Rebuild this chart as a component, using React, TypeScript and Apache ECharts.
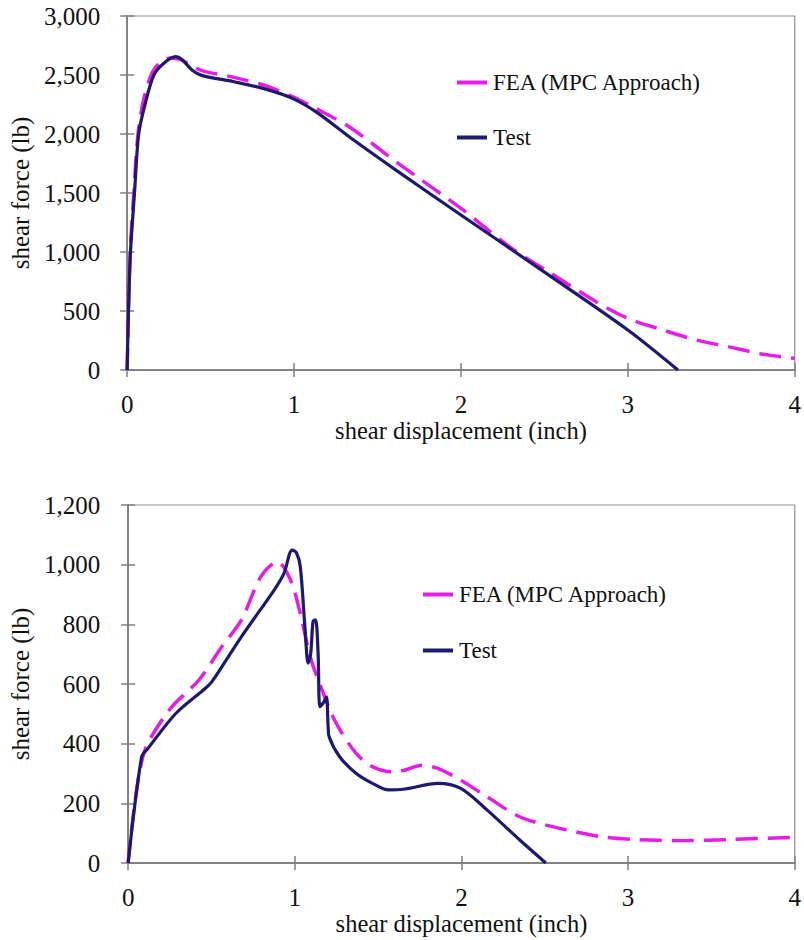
import React, { useEffect, useRef } from "react";
import * as echarts from "echarts";

// ---------- data ----------
const seriesNames = ["FEA (MPC Approach)", "Test"];

// Top chart
const topTestX = [0, 0.008, 0.02, 0.044, 0.069, 0.107, 0.16, 0.22, 0.29, 0.33, 0.39, 0.45, 0.64, 0.835, 0.99, 1.13, 1.33, 1.63, 2.0, 2.54, 3.0, 3.3];
const topTestY = [0, 500, 1000, 1500, 2000, 2250, 2500, 2600, 2655, 2630, 2540, 2495, 2443, 2378, 2302, 2189, 1977, 1675, 1314, 791, 339, 0];
const topFeaX = [0, 0.008, 0.018, 0.04, 0.065, 0.1, 0.15, 0.2, 0.26, 0.32, 0.44, 0.64, 0.835, 0.99, 1.13, 1.33, 1.63, 2.0, 2.3, 2.54, 2.81, 3.0, 3.21, 3.41, 3.6, 3.8, 4.0];
const topFeaY = [0, 500, 1000, 1500, 2000, 2300, 2520, 2610, 2645, 2630, 2542, 2480, 2407, 2316, 2217, 2062, 1745, 1370, 1035, 819, 579, 438, 339, 254, 198, 136, 99];

// Bottom chart
const botTestX = [0, 0.081, 0.12, 0.287, 0.464, 0.503, 0.68, 0.876, 0.935, 0.984, 1.01, 1.033, 1.062, 1.08, 1.095, 1.11, 1.125, 1.14, 1.151, 1.175, 1.19, 1.2, 1.206, 1.269, 1.367, 1.466, 1.563, 1.662, 1.858, 1.996, 2.153, 2.35, 2.506];
const botTestY = [0, 356, 385, 502, 586, 608, 759, 915, 971, 1049, 1040, 993, 781, 670, 700, 810, 815, 700, 524, 540, 557, 457, 423, 356, 301, 267, 245, 248, 267, 250, 178, 77, 0];
const botFeaX = [0, 0.09, 0.247, 0.424, 0.562, 0.68, 0.797, 0.896, 0.974, 1.033, 1.092, 1.171, 1.249, 1.367, 1.466, 1.583, 1.662, 1.76, 1.858, 1.996, 2.153, 2.35, 2.546, 2.84, 3.037, 3.33, 3.626, 4.0];
const botFeaY = [0, 360, 513, 613, 725, 815, 960, 1010, 949, 837, 692, 569, 468, 368, 323, 306, 312, 328, 317, 278, 222, 155, 122, 88, 79, 75, 79, 86];

const xTicks = [0, 1, 2, 3, 4];
const topYTicks = [0, 500, 1000, 1500, 2000, 2500, 3000];
const botYTicks = [0, 200, 400, 600, 800, 1000, 1200];

const xTitle = "shear displacement (inch)";
const yTitle = "shear force (lb)";

// ---------- helpers ----------
const pairs = (xs: number[], ys: number[]) => xs.map((x, i) => [x, ys[i]]);
const FONT = "'Liberation Serif', 'Times New Roman', Times, serif";
const MAGENTA = "#e81ce8";
const NAVY = "#1d1870";
const AXIS = "#7f7f7f";

export default function App() {
  const ref = useRef<HTMLDivElement>(null);

  useEffect(() => {
    if (!ref.current) return;
    const chart = echarts.init(ref.current, undefined, { renderer: "svg" });

    const grids = [
      { left: 126, top: 16, width: 674, height: 354 },
      { left: 118, top: 505, width: 679, height: 358 },
    ];
    const yMax = [topYTicks[topYTicks.length - 1], botYTicks[botYTicks.length - 1]];
    const yInt = [topYTicks[1] - topYTicks[0], botYTicks[1] - botYTicks[0]];
    const yNameGap = [93, 82];
    const yLabelMargin = [27, 28];
    const xNameGap = [42, 41];

    const xAxis: any[] = [];
    const yAxis: any[] = [];
    grids.forEach((_, g) => {
      xAxis.push({
        type: "value",
        gridIndex: g,
        position: "bottom",
        min: xTicks[0],
        max: xTicks[xTicks.length - 1],
        interval: 1,
        name: xTitle,
        nameLocation: "middle",
        nameGap: xNameGap[g],
        nameTextStyle: { fontFamily: FONT, fontSize: 24.5, color: "#111" },
        axisLine: { show: true, onZero: false, lineStyle: { color: AXIS, width: 1.5 } },
        axisTick: { show: true, inside: false, length: 7, lineStyle: { color: AXIS, width: 1.5 } },
        axisLabel: { fontFamily: FONT, fontSize: 25, color: "#111", margin: 22 },
        splitLine: { show: false },
      });
      xAxis.push({
        type: "value",
        gridIndex: g,
        show: true,
        position: "bottom",
        min: xTicks[0],
        max: xTicks[xTicks.length - 1],
        interval: 1,
        axisLine: { show: true, onZero: false, lineStyle: { color: AXIS, width: 1.5 } },
        axisTick: { show: true, inside: true, length: 7, lineStyle: { color: AXIS, width: 1.5 } },
        axisLabel: { show: false },
        splitLine: { show: false },
      });
      yAxis.push({
        type: "value",
        gridIndex: g,
        position: "left",
        min: 0,
        max: yMax[g],
        interval: yInt[g],
        name: yTitle,
        nameLocation: "middle",
        nameGap: yNameGap[g],
        nameRotate: 90,
        nameTextStyle: { fontFamily: FONT, fontSize: 25, color: "#111" },
        axisLine: { show: true, onZero: false, lineStyle: { color: AXIS, width: 1.5 } },
        axisTick: { show: true, inside: false, length: 7, lineStyle: { color: AXIS, width: 1.5 } },
        axisLabel: {
          fontFamily: FONT,
          fontSize: 25,
          color: "#111",
          margin: yLabelMargin[g],
          formatter: (v: number) => v.toLocaleString("en-US"),
        },
        splitLine: { show: false },
      });
      yAxis.push({
        type: "value",
        gridIndex: g,
        show: true,
        position: "left",
        min: 0,
        max: yMax[g],
        interval: yInt[g],
        axisLine: { show: true, onZero: false, lineStyle: { color: AXIS, width: 1.5 } },
        axisTick: { show: true, inside: true, length: 7, lineStyle: { color: AXIS, width: 1.5 } },
        axisLabel: { show: false },
        splitLine: { show: false },
      });
    });

    const mkFea = (g: number, data: number[][]) => ({
      name: seriesNames[0],
      type: "line",
      xAxisIndex: g * 2,
      yAxisIndex: g * 2,
      data,
      smooth: 0.3,
      symbol: "none",
      showSymbol: false,
      lineStyle: { color: MAGENTA, width: 3.5, type: [22, 10] },
      itemStyle: { color: MAGENTA },
      z: 2,
    });
    const mkTest = (g: number, data: number[][]) => ({
      name: seriesNames[1],
      type: "line",
      xAxisIndex: g * 2,
      yAxisIndex: g * 2,
      data,
      smooth: 0.3,
      symbol: "none",
      showSymbol: false,
      lineStyle: { color: NAVY, width: 3.2 },
      itemStyle: { color: NAVY },
      z: 3,
    });

    const legendData = [
      { name: seriesNames[0], itemStyle: { color: MAGENTA } },
      { name: seriesNames[1], itemStyle: { color: NAVY } },
    ];
    const mkLegend = (left: number, top: number, gap: number) => ({
      orient: "vertical",
      left,
      top,
      padding: 0,
      icon: "rect",
      itemWidth: 30,
      itemHeight: 4,
      itemGap: gap,
      selectedMode: false,
      data: legendData,
      textStyle: { fontFamily: FONT, fontSize: 23, color: "#111", padding: [0, 0, 0, 1] },
    });

    chart.setOption({
      animation: false,
      backgroundColor: "#ffffff",
      grid: grids.map((g) => ({ ...g, show: true, borderColor: "#909090", borderWidth: 1.2, backgroundColor: "transparent" })),
      xAxis,
      yAxis,
      legend: [mkLegend(457, 71, 32), mkLegend(423, 583, 33)],
      series: [
        mkFea(0, pairs(topFeaX, topFeaY)),
        mkTest(0, pairs(topTestX, topTestY)),
        mkFea(1, pairs(botFeaX, botFeaY)),
        mkTest(1, pairs(botTestX, botTestY)),
      ],
    });

    return () => chart.dispose();
  }, []);

  return (
    <div
      ref={ref}
      style={{ position: "absolute", left: 0, top: 0, width: 804, height: 940 }}
    />
  );
}
